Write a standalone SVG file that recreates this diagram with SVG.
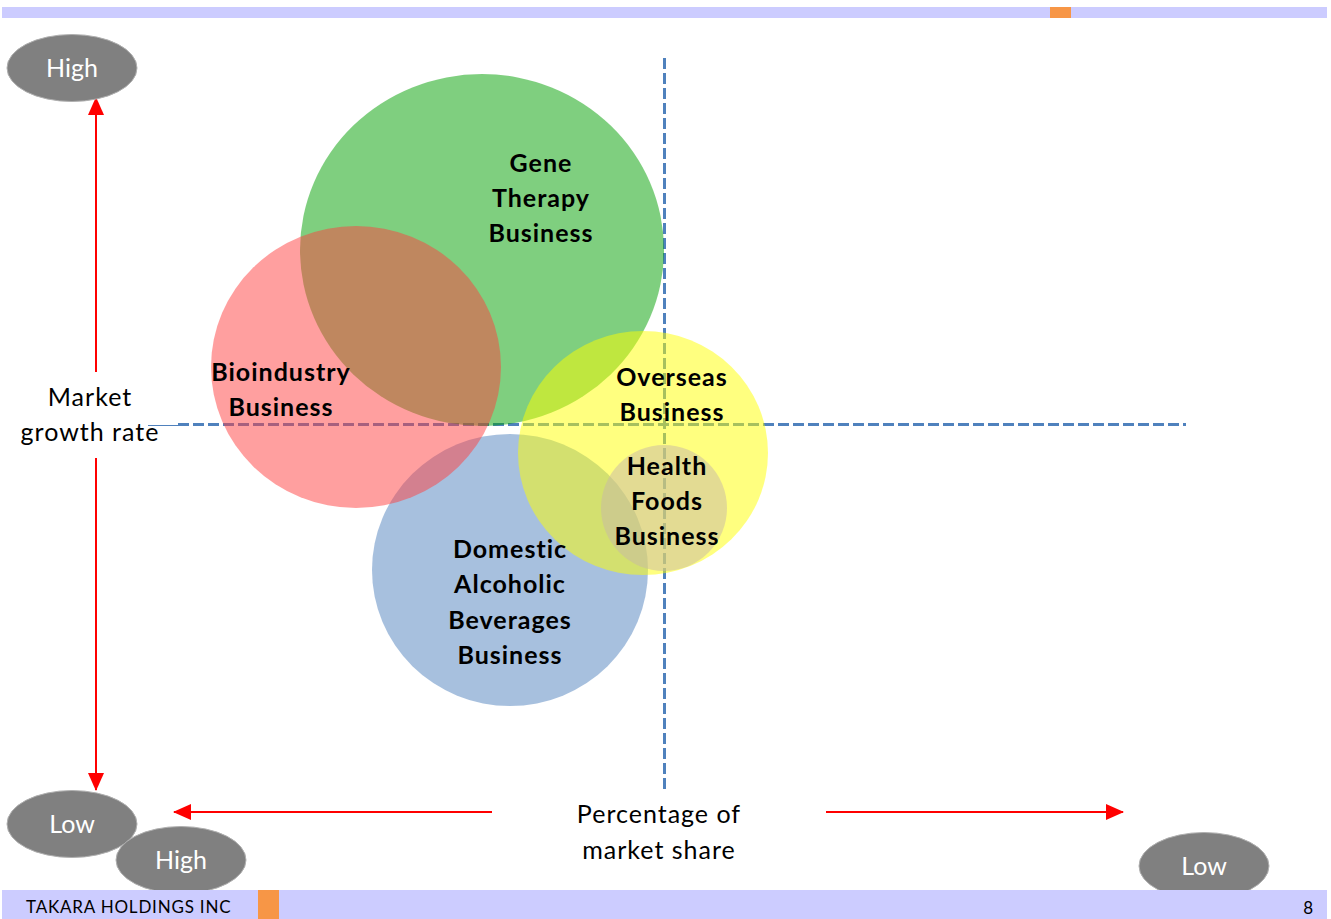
<svg xmlns="http://www.w3.org/2000/svg" width="1331" height="919" viewBox="0 0 1331 919">
  <style>
    text { font-family: Lato, "Open Sans", "Liberation Sans", sans-serif; }
    .lbl { font-size: 25px; font-weight: bold; letter-spacing: 1px; fill: #000; text-anchor: middle; }
    .axis { font-size: 25px; letter-spacing: 1px; fill: #000; text-anchor: middle; }
    .pill { fill: #808080; stroke: #b0b0b0; stroke-width: 1; }
    .pilltxt { font-size: 25px; fill: #fff; text-anchor: middle; }
    .divider { stroke: #4f81bd; stroke-width: 3; stroke-dasharray: 11 4; fill: none; }
    .arrow { stroke: #ff0000; stroke-width: 2; fill: none; }
    .bar { fill: #ccccff; }
    .accent { fill: #f79646; }
  </style>
  <defs>
    <marker id="redHead" markerUnits="userSpaceOnUse" markerWidth="18" markerHeight="16" refX="17" refY="8" orient="auto-start-reverse">
      <path d="M0,0 L18,8 L0,16 z" fill="#ff0000"/>
    </marker>
  </defs>

  <!-- header band -->
  <rect class="bar" x="2" y="7" width="1325" height="11"/>
  <rect class="accent" x="1050" y="7" width="21" height="11"/>

  <!-- quadrant dividers -->
  <g id="dividers">
    <line x1="148" y1="425.5" x2="178" y2="425.5" stroke="#4f81bd" stroke-width="1"/>
    <line class="divider" x1="178" y1="424.5" x2="1186" y2="424.5"/>
    <line class="divider" x1="664.5" y1="58" x2="664.5" y2="790"/>
  </g>

  <!-- business bubbles -->
  <g id="gene-therapy">
    <ellipse cx="482" cy="250" rx="182" ry="176" fill="#00a000" fill-opacity="0.5"/>
  </g>
  <g id="domestic-alcoholic">
    <ellipse cx="510" cy="570" rx="138" ry="136" fill="#4f81bd" fill-opacity="0.5"/>
  </g>
  <g id="bioindustry">
    <ellipse cx="356" cy="367" rx="145" ry="141" fill="#ff4040" fill-opacity="0.5"/>
  </g>
  <g id="overseas">
    <ellipse cx="643" cy="453" rx="125" ry="122" fill="#ffff00" fill-opacity="0.5"/>
  </g>
  <g id="health-foods">
    <ellipse cx="664" cy="508" rx="63" ry="63" fill="#c8b8a8" fill-opacity="0.5"/>
  </g>

  <!-- bubble labels -->
  <g id="labels">
    <text class="lbl" x="541" y="172">Gene</text>
    <text class="lbl" x="541" y="207">Therapy</text>
    <text class="lbl" x="541" y="242">Business</text>

    <text class="lbl" x="281" y="381">Bioindustry</text>
    <text class="lbl" x="281" y="416">Business</text>

    <text class="lbl" x="672" y="386">Overseas</text>
    <text class="lbl" x="672" y="421">Business</text>

    <text class="lbl" x="667" y="475">Health</text>
    <text class="lbl" x="667" y="510">Foods</text>
    <text class="lbl" x="667" y="545">Business</text>

    <text class="lbl" x="510" y="558">Domestic</text>
    <text class="lbl" x="510" y="593">Alcoholic</text>
    <text class="lbl" x="510" y="629">Beverages</text>
    <text class="lbl" x="510" y="664">Business</text>
  </g>

  <!-- axis arrows -->
  <g id="connectors">
    <line class="arrow" x1="96" y1="372" x2="96" y2="98" marker-end="url(#redHead)"/>
    <line class="arrow" x1="96" y1="458" x2="96" y2="790" marker-end="url(#redHead)"/>
    <line class="arrow" x1="492" y1="812" x2="174" y2="812" marker-end="url(#redHead)"/>
    <line class="arrow" x1="826" y1="812" x2="1123" y2="812" marker-end="url(#redHead)"/>
  </g>

  <!-- axis titles -->
  <g id="axis-titles">
    <text class="axis" x="90" y="406">Market</text>
    <text class="axis" x="90" y="441">growth rate</text>
    <text class="axis" x="659" y="823">Percentage of</text>
    <text class="axis" x="659" y="859">market share</text>
  </g>

  <!-- scale end markers -->
  <g id="growth-high">
    <ellipse class="pill" cx="72" cy="68" rx="65" ry="33.5"/>
    <text class="pilltxt" x="72" y="77">High</text>
  </g>
  <g id="growth-low">
    <ellipse class="pill" cx="72" cy="824" rx="65" ry="33.5"/>
    <text class="pilltxt" x="72" y="833">Low</text>
  </g>
  <g id="share-high">
    <ellipse class="pill" cx="181" cy="860" rx="65" ry="33.5"/>
    <text class="pilltxt" x="181" y="869">High</text>
  </g>
  <g id="share-low">
    <ellipse class="pill" cx="1204" cy="866" rx="65" ry="33.5"/>
    <text class="pilltxt" x="1204" y="875">Low</text>
  </g>

  <!-- footer band -->
  <g id="footer">
    <rect class="bar" x="2" y="890" width="1325" height="29"/>
    <rect class="accent" x="258" y="890" width="21" height="29"/>
    <text x="26" y="913" font-size="17" letter-spacing="0.8" fill="#000">TAKARA HOLDINGS INC</text>
    <text x="1313" y="914" font-size="17" fill="#000" text-anchor="end">8</text>
  </g>
</svg>
